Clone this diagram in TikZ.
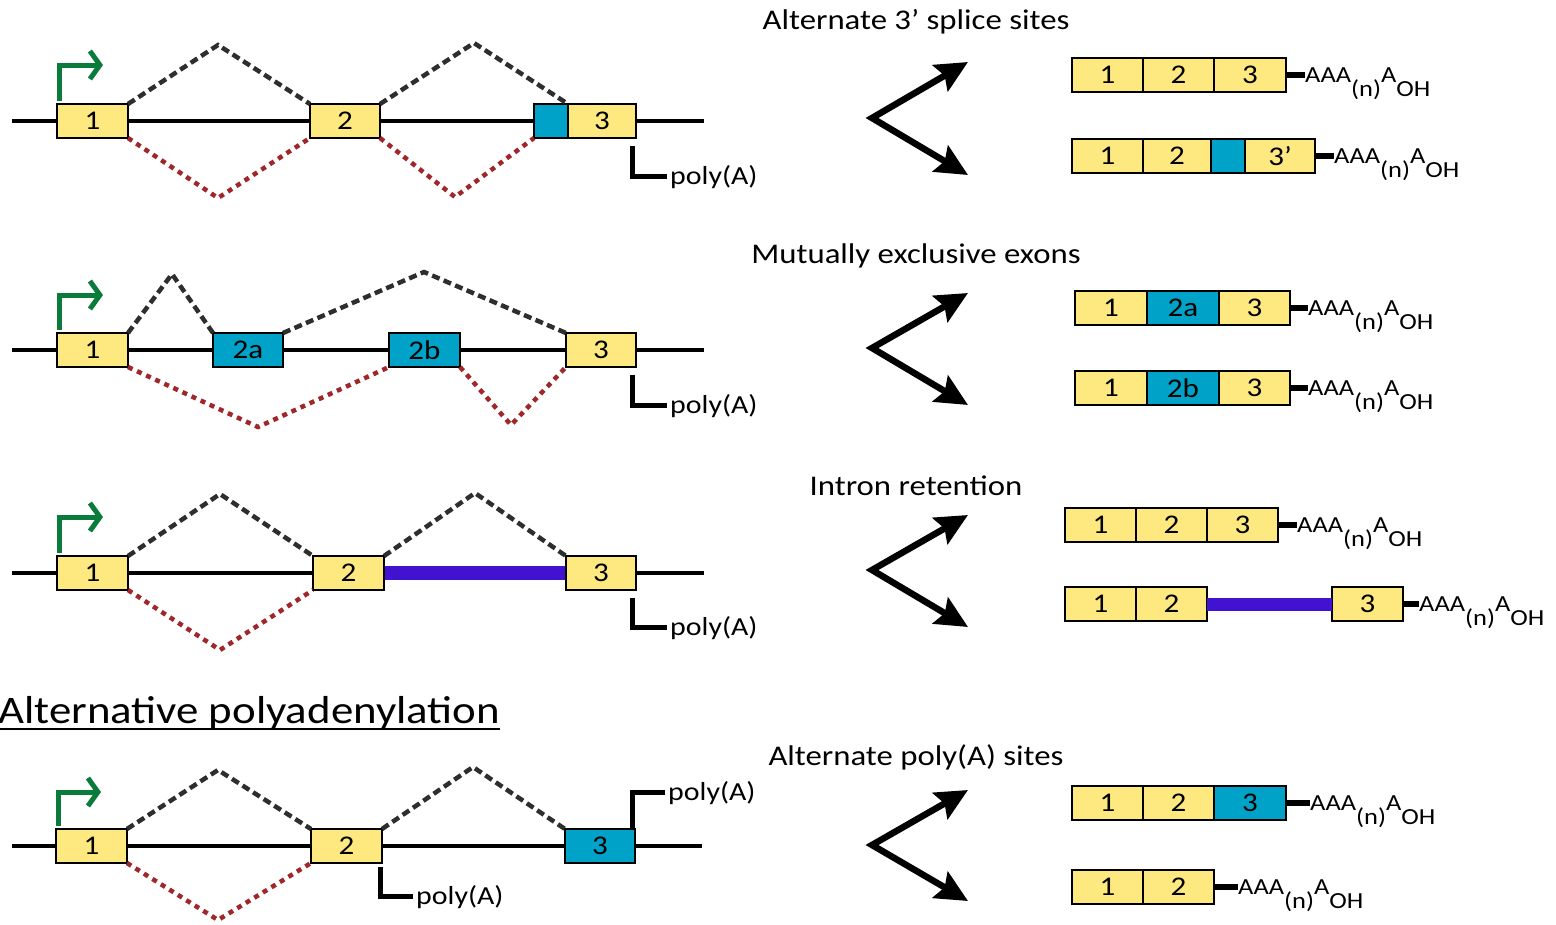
\documentclass[tikz,border=0pt]{standalone}
\usepackage{fontspec}
\setmainfont{Carlito}[FakeStretch=1.15]
\usepackage{tikz}
\usetikzlibrary{positioning}
\usetikzlibrary{arrows.meta}

\definecolor{exyellow}{HTML}{FDE97F}
\definecolor{exblue}{HTML}{00A2C7}
\definecolor{dotred}{HTML}{A0262A}
\definecolor{dashgray}{HTML}{2E2E2E}
\definecolor{tssgreen}{HTML}{0B7B3B}
\definecolor{retpurple}{HTML}{4212D1}

\newcommand{\fsz}[1]{\fontsize{#1}{#1}\selectfont}
\newcommand{\polytail}{AAA\smash{\raisebox{-14pt}{(n)}}A\smash{\raisebox{-14pt}{OH}}}

\begin{document}
\begin{tikzpicture}
    [x=1pt, y=-1pt,
     ex/.style = {draw, line width=2pt, fill=exyellow, minimum width=71pt, minimum height=34pt,
                  inner sep=0pt, outer sep=0pt, font=\fsz{27}},
     alt/.style = {ex, fill=exblue},
     gene/.style = {line width=4pt},
     incl/.style = {draw=dashgray, line width=4.5pt, dash pattern=on 8pt off 4.5pt},
     skip/.style = {draw=dotred, line width=4.5pt, dash pattern=on 5pt off 5pt},
     tss/.style = {draw=tssgreen, line width=5pt, -{Straight Barb[length=10pt,width=28pt]}},
     pa/.style = {line width=5pt},
     palabel/.style = {inner sep=3pt, font=\fsz{26}},
     fork/.style = {line width=6.5pt, line join=miter,
                    {Stealth[length=32pt,width=30pt,inset=5pt]}-{Stealth[length=32pt,width=30pt,inset=5pt]}},
     tail/.style = {line width=6pt},
     aaa/.style = {inner sep=0pt, font=\fsz{23}},
     title/.style = {inner sep=0pt, font=\fsz{28.5}},
     intron/.style = {draw=retpurple, line width=14pt}]

    \useasboundingbox (0,0) rectangle (1556,924);

    % alternate 3' splice sites
    \draw[gene] (12,121) -- (704,121);
    \node[ex] (a1) at (92.5,121) {1};
    \node[ex, minimum width=70pt] (a2) at (345,121) {2};
    \node[alt, minimum width=34pt] (a3b) at (551,121) {};
    \node[ex, minimum width=68pt] (a3) at (602,121) {3};
    \draw[incl] (a1.north east) -- (218,45) -- (a2.north west);
    \draw[incl] (a2.north east) -- (474,43) -- (a3.north west);
    \draw[skip] (a1.south east) -- (218,198) -- (a2.south west);
    \draw[skip] (a2.south east) -- (455,197) -- (a3b.south west);
    \coordinate (tss1) at (103,65);
    \draw[tss] ([xshift=2pt,yshift=3pt]a1.north west) |- (tss1);
    \node[palabel, anchor=base west] (pa1) at (667,184) {poly(A)};
    \draw[pa] ([xshift=-4pt,yshift=-8pt]a3.south east) |- (pa1.west);

    \node[title, anchor=base] (h1) at (916,29) {Alternate 3’ splice sites};
    \coordinate (f1u) at (968,62);
    \coordinate (f1) at (872,118);
    \coordinate (f1d) at (968,175);
    \draw[fork] (f1u) -- (f1) -- (f1d);

    \node[ex, anchor=west] (r1a) at (1072,75) {1};
    \node[ex] (r1b) [right=0pt of r1a] {2};
    \node[ex, minimum width=72pt] (r1c) [right=0pt of r1b] {3};
    \node[aaa] (r1t) [right=19pt of r1c] {\polytail};
    \draw[tail] (r1c.east) -- (r1t.west);

    \node[ex, anchor=west] (r2a) at (1072,156) {1};
    \node[ex, minimum width=68pt] (r2b) [right=0pt of r2a] {2};
    \node[alt, minimum width=34pt] (r2c) [right=0pt of r2b] {};
    \node[ex, minimum width=70pt] (r2d) [right=0pt of r2c] {3’};
    \node[aaa] (r2t) [right=19pt of r2d] {\polytail};
    \draw[tail] (r2d.east) -- (r2t.west);

    % mutually exclusive exons
    \draw[gene] (12,350) -- (704,350);
    \node[ex] (b1) at (92.5,350) {1};
    \node[alt, minimum width=70pt] (b2a) at (248,350) {2a};
    \node[alt] (b2b) at (424.5,350) {2b};
    \node[ex, minimum width=70pt] (b3) at (601,350) {3};
    \draw[incl] (b1.north east) -- (172,274) -- (b2a.north west);
    \draw[incl] (b2a.north east) -- (424,272) -- (b3.north west);
    \draw[skip] (b1.south east) -- (258,427) -- (b2b.south west);
    \draw[skip] (b2b.south east) -- (511,425) -- (b3.south west);
    \coordinate (tss2) at (103,295);
    \draw[tss] ([xshift=2pt,yshift=3pt]b1.north west) |- (tss2);
    \node[palabel, anchor=base west] (pa2) at (667,413) {poly(A)};
    \draw[pa] ([xshift=-4pt,yshift=-8pt]b3.south east) |- (pa2.west);

    \node[title, anchor=base] (h2) at (916,263) {Mutually exclusive exons};
    \coordinate (f2u) at (968,293);
    \coordinate (f2) at (872,348);
    \coordinate (f2d) at (968,405);
    \draw[fork] (f2u) -- (f2) -- (f2d);

    \node[ex, minimum width=72pt, anchor=west] (m1a) at (1075,308) {1};
    \node[alt, minimum width=72pt] (m1b) [right=0pt of m1a] {2a};
    \node[ex] (m1c) [right=0pt of m1b] {3};
    \node[aaa] (m1t) [right=18pt of m1c] {\polytail};
    \draw[tail] (m1c.east) -- (m1t.west);

    \node[ex, minimum width=72pt, anchor=west] (m2a) at (1075,388) {1};
    \node[alt, minimum width=72pt] (m2b) [right=0pt of m2a] {2b};
    \node[ex] (m2c) [right=0pt of m2b] {3};
    \node[aaa] (m2t) [right=18pt of m2c] {\polytail};
    \draw[tail] (m2c.east) -- (m2t.west);

    % intron retention
    \draw[gene] (12,573) -- (704,573);
    \draw[intron] (384,573) -- (566,573);
    \node[ex] (c1) at (92.5,573) {1};
    \node[ex] (c2) at (348.5,573) {2};
    \node[ex, minimum width=70pt] (c3) at (601,573) {3};
    \draw[incl] (c1.north east) -- (220,494) -- (c2.north west);
    \draw[incl] (c2.north east) -- (475,493) -- (c3.north west);
    \draw[skip] (c1.south east) -- (220,650) -- (c2.south west);
    \coordinate (tss3) at (103,517);
    \draw[tss] ([xshift=2pt,yshift=3pt]c1.north west) |- (tss3);
    \node[palabel, anchor=base west] (pa3) at (667,635) {poly(A)};
    \draw[pa] ([xshift=-4pt,yshift=-8pt]c3.south east) |- (pa3.west);

    \node[title, anchor=base] (h3) at (916,495) {Intron retention};
    \coordinate (f3u) at (968,515);
    \coordinate (f3) at (872,570);
    \coordinate (f3d) at (968,627);
    \draw[fork] (f3u) -- (f3) -- (f3d);

    \node[ex, anchor=west] (i1a) at (1065,525) {1};
    \node[ex] (i1b) [right=0pt of i1a] {2};
    \node[ex] (i1c) [right=0pt of i1b] {3};
    \node[aaa] (i1t) [right=19pt of i1c] {\polytail};
    \draw[tail] (i1c.east) -- (i1t.west);

    \node[ex, anchor=west] (i2a) at (1065,604) {1};
    \node[ex] (i2b) [right=0pt of i2a] {2};
    \node[ex] (i2c) [right=125pt of i2b] {3};
    \node[aaa] (i2t) [right=16pt of i2c] {\polytail};
    \draw[intron, line width=13pt] (i2b.east) -- (i2c.west);
    \draw[tail] (i2c.east) -- (i2t.west);

    % alternative polyadenylation
    \node[inner sep=0pt, anchor=base west, font=\fsz{39}] (apa) at (-2,723) {Alternative polyadenylation};
    \draw[line width=1.5pt] ([yshift=-6pt]apa.base west) -- ([yshift=-6pt]apa.base east);

    \draw[gene] (12,846) -- (702,846);
    \node[ex] (d1) at (91.5,846) {1};
    \node[ex] (d2) at (346.5,846) {2};
    \node[alt, minimum width=70pt] (d3) at (600,846) {3};
    \draw[incl] (d1.north east) -- (218,770) -- (d2.north west);
    \draw[incl] (d2.north east) -- (473,767) -- (d3.north west);
    \draw[skip] (d1.south east) -- (218,920) -- (d2.south west);
    \coordinate (tss4) at (101,792);
    \draw[tss] ([xshift=2pt,yshift=3pt]d1.north west) |- (tss4);
    \node[palabel, anchor=base west] (pa4a) at (665,800) {poly(A)};
    \draw[pa] ([xshift=-3pt]d3.north east) |- (pa4a.west);
    \node[palabel, anchor=base west] (pa4b) at (413,904) {poly(A)};
    \draw[pa] ([xshift=-2pt,yshift=-4pt]d2.south east) |- (pa4b.west);

    \node[title, anchor=base] (h4) at (916,765) {Alternate poly(A) sites};
    \coordinate (f4u) at (968,790);
    \coordinate (f4) at (872,845);
    \coordinate (f4d) at (968,901);
    \draw[fork] (f4u) -- (f4) -- (f4d);

    \node[ex, anchor=west] (p1a) at (1072,803) {1};
    \node[ex] (p1b) [right=0pt of p1a] {2};
    \node[alt, minimum width=72pt] (p1c) [right=0pt of p1b] {3};
    \node[aaa] (p1t) [right=24pt of p1c] {\polytail};
    \draw[tail] (p1c.east) -- (p1t.west);

    \node[ex, anchor=west] (p2a) at (1072,887) {1};
    \node[ex] (p2b) [right=0pt of p2a] {2};
    \node[aaa] (p2t) [right=24pt of p2b] {\polytail};
    \draw[tail] (p2b.east) -- (p2t.west);
\end{tikzpicture}
\end{document}
